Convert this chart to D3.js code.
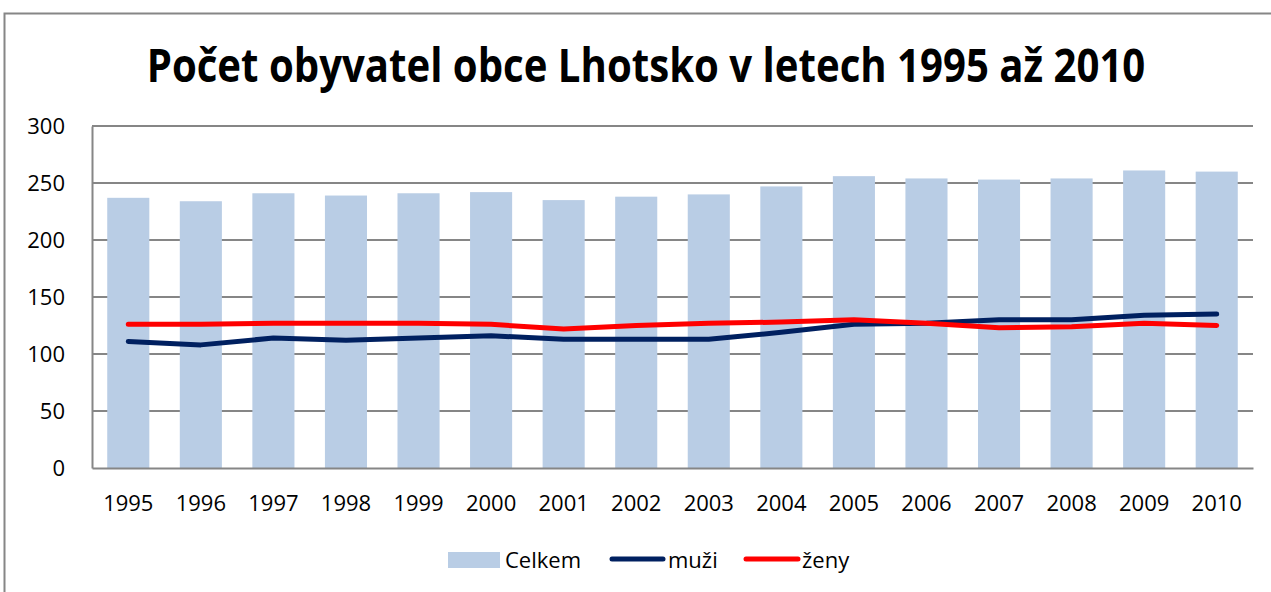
<!DOCTYPE html>
<html><head><meta charset="utf-8">
<script src="https://cdn.jsdelivr.net/npm/d3@7"></script>
<style>html,body{margin:0;padding:0;background:#fff;}svg{display:block;}</style>
</head><body>
<svg id="c" width="1271" height="592"></svg>
<script>
const years = ["1995","1996","1997","1998","1999","2000","2001","2002","2003","2004","2005","2006","2007","2008","2009","2010"];
const celkem = [237,234,241,239,241,242,235,238,240,247,256,254,253,254,261,260];
const muzi = [111,108,114,112,114,116,113,113,113,119,126,127,130,130,134,135];
const zeny = [126,126,127,127,127,126,122,125,127,128,130,127,123,124,127,125];
const yTicks = [0,50,100,150,200,250,300];
const title = "Počet obyvatel obce Lhotsko v letech 1995 až 2010";
const seriesNames = ["Celkem","muži","ženy"];

const svg = d3.select("#c");
const font = "'Open Sans', sans-serif";
const W = 1271, H = 592;
const m = {l:92, r:1253, t:126, b:468};

// outer chart border
svg.append("path").attr("d", `M4.5,${H} V13.5 H${W}`).attr("fill","none").attr("stroke","#868686").attr("stroke-width",2);

const x = d3.scaleBand().domain(years).range([m.l, m.r]).paddingInner(0.42).paddingOuter(0.21);
const y = d3.scaleLinear().domain([0,300]).range([m.b, m.t]);

// gridlines
svg.append("g").selectAll("line").data(yTicks.filter(d=>d>0)).join("line")
  .attr("x1", m.l).attr("x2", m.r).attr("y1", d=>y(d)).attr("y2", d=>y(d))
  .attr("stroke","#868686").attr("stroke-width",2);

// bars
svg.append("g").selectAll("rect").data(celkem).join("rect")
  .attr("x", (d,i)=>x(years[i])).attr("width", x.bandwidth())
  .attr("y", d=>y(d)).attr("height", d=>y(0)-y(d))
  .attr("fill","#B9CDE5");

// axes
const yAxis = d3.axisLeft(y).tickValues(yTicks).tickSize(0).tickPadding(27);
const gy = svg.append("g").attr("transform",`translate(${m.l},0)`).call(yAxis);
gy.select(".domain").attr("stroke","#868686").attr("stroke-width",2);
gy.selectAll("text").attr("font-family",font).attr("font-size",22).attr("fill","#000");

const xAxis = d3.axisBottom(x).tickSize(0).tickPadding(27);
const gx = svg.append("g").attr("transform",`translate(0,${m.b})`).call(xAxis);
gx.select(".domain").attr("stroke","#868686").attr("stroke-width",2);
gx.selectAll("text").attr("font-family",font).attr("font-size",22).attr("fill","#000");

// lines
const cx = i => x(years[i]) + x.bandwidth()/2;
const line = d3.line().x((d,i)=>cx(i)).y(d=>y(d));
svg.append("path").datum(muzi).attr("d", line).attr("fill","none")
  .attr("stroke","#002060").attr("stroke-width",5).attr("stroke-linecap","round").attr("stroke-linejoin","round");
svg.append("path").datum(zeny).attr("d", line).attr("fill","none")
  .attr("stroke","#FF0000").attr("stroke-width",5).attr("stroke-linecap","round").attr("stroke-linejoin","round");

// title (condensed horizontally to mimic Calibri Bold)
const tg = svg.append("g").attr("transform","translate(646,82)");
const t = tg.append("text").attr("x",0).attr("y",0).attr("text-anchor","middle")
  .attr("font-family",font).attr("font-weight","bold").attr("font-size",46).attr("fill","#000").text(title);
const natural = t.node().getComputedTextLength();
tg.attr("transform", `translate(646,82) scale(${999/natural},1)`);

// legend
const lg = svg.append("g").attr("font-family",font).attr("font-size",22).attr("fill","#000");
lg.append("rect").attr("x",448).attr("y",552).attr("width",52).attr("height",16).attr("fill","#B9CDE5");
lg.append("text").attr("x",505).attr("y",568).text(seriesNames[0]);
lg.append("line").attr("x1",612).attr("x2",663).attr("y1",559).attr("y2",559).attr("stroke","#002060").attr("stroke-width",5).attr("stroke-linecap","round");
lg.append("text").attr("x",668).attr("y",568).text(seriesNames[1]);
lg.append("line").attr("x1",746).attr("x2",798).attr("y1",559).attr("y2",559).attr("stroke","#FF0000").attr("stroke-width",5).attr("stroke-linecap","round");
lg.append("text").attr("x",802).attr("y",568).text(seriesNames[2]);
</script>
</body></html>
